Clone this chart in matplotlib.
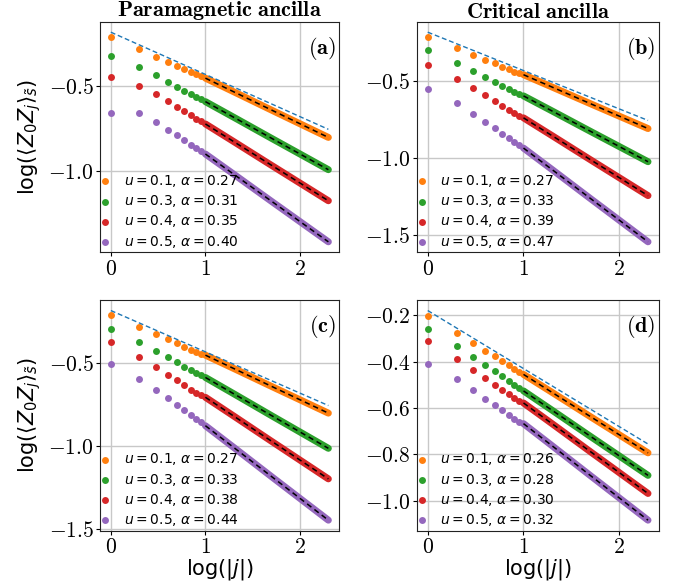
import numpy as np
import matplotlib
matplotlib.use('Agg')
import matplotlib.pyplot as plt
from matplotlib.font_manager import FontProperties
from matplotlib.ticker import FuncFormatter, MultipleLocator

plt.rcParams['mathtext.fontset'] = 'cm'
plt.rcParams['font.family'] = ['DejaVu Sans']

# ---------------- data ----------------
j_head = [1, 2, 3, 4, 5, 6, 7, 8, 9]          # individually resolved points
j_tail = [10, 20, 50, 100, 200]               # dense part (points overlap into a band)
j_ref = [1, 200]
ref_line = [-0.18, -0.755]                    # blue dashed reference line

u_values = [0.1, 0.3, 0.4, 0.5]
colors = ['#ff7f0e', '#2ca02c', '#d62728', '#9467bd']
panel_tags = ['(a)', '(b)', '(c)', '(d)']
titles = ['Paramagnetic ancilla', 'Critical ancilla', None, None]

alpha_a = [0.27, 0.31, 0.35, 0.40]
head_a = [
    [-0.209, -0.281, -0.324, -0.356, -0.379, -0.399, -0.417, -0.430, -0.441],
    [-0.322, -0.387, -0.435, -0.474, -0.502, -0.528, -0.547, -0.563, -0.577],
    [-0.445, -0.496, -0.547, -0.589, -0.621, -0.648, -0.672, -0.692, -0.708],
    [-0.658, -0.658, -0.711, -0.757, -0.791, -0.820, -0.846, -0.866, -0.885],
]
tail_a = [
    [-0.452, -0.533, -0.641, -0.722, -0.803],
    [-0.591, -0.684, -0.808, -0.901, -0.994],
    [-0.723, -0.828, -0.968, -1.073, -1.178],
    [-0.901, -1.021, -1.181, -1.301, -1.421],
]

alpha_b = [0.27, 0.33, 0.39, 0.47]
head_b = [
    [-0.209, -0.283, -0.326, -0.359, -0.383, -0.404, -0.422, -0.437, -0.447],
    [-0.298, -0.380, -0.435, -0.474, -0.504, -0.530, -0.550, -0.567, -0.582],
    [-0.396, -0.483, -0.546, -0.591, -0.628, -0.659, -0.685, -0.707, -0.724],
    [-0.552, -0.639, -0.711, -0.765, -0.807, -0.841, -0.872, -0.898, -0.918],
]
tail_b = [
    [-0.457, -0.538, -0.646, -0.727, -0.808],
    [-0.595, -0.694, -0.826, -0.925, -1.024],
    [-0.738, -0.855, -1.011, -1.128, -1.245],
    [-0.935, -1.076, -1.264, -1.405, -1.546],
]

alpha_c = [0.27, 0.33, 0.38, 0.44]
head_c = [
    [-0.204, -0.277, -0.322, -0.354, -0.379, -0.401, -0.417, -0.431, -0.441],
    [-0.289, -0.372, -0.427, -0.464, -0.494, -0.520, -0.540, -0.557, -0.571],
    [-0.372, -0.464, -0.524, -0.569, -0.603, -0.632, -0.658, -0.678, -0.694],
    [-0.502, -0.593, -0.660, -0.711, -0.751, -0.781, -0.812, -0.836, -0.856],
]
tail_c = [
    [-0.450, -0.531, -0.639, -0.720, -0.801],
    [-0.585, -0.684, -0.816, -0.915, -1.014],
    [-0.705, -0.819, -0.971, -1.085, -1.199],
    [-0.877, -1.009, -1.185, -1.317, -1.449],
]

alpha_d = [0.26, 0.28, 0.30, 0.32]
head_d = [
    [-0.203, -0.276, -0.319, -0.353, -0.377, -0.397, -0.415, -0.430, -0.443],
    [-0.258, -0.334, -0.381, -0.416, -0.442, -0.463, -0.485, -0.500, -0.513],
    [-0.312, -0.387, -0.435, -0.471, -0.499, -0.521, -0.541, -0.557, -0.570],
    [-0.410, -0.475, -0.524, -0.560, -0.588, -0.610, -0.630, -0.647, -0.658],
]
tail_d = [
    [-0.455, -0.533, -0.637, -0.715, -0.793],
    [-0.526, -0.610, -0.722, -0.806, -0.890],
    [-0.578, -0.668, -0.788, -0.878, -0.968],
    [-0.667, -0.763, -0.891, -0.987, -1.083],
]

panels = [
    (alpha_a, head_a, tail_a, 0.5),
    (alpha_b, head_b, tail_b, 0.5),
    (alpha_c, head_c, tail_c, 0.5),
    (alpha_d, head_d, tail_d, 0.2),
]

# ---------------- figure ----------------
fig = plt.figure(figsize=(6.88, 5.88), dpi=100)
rects = [
    [0.1453, 0.5709, 0.3478, 0.3922],
    [0.6057, 0.5709, 0.3522, 0.3922],
    [0.1453, 0.0975, 0.3478, 0.3922],
    [0.6057, 0.0975, 0.3522, 0.3922],
]

xh = np.log10(j_head)
xt = np.log10(j_tail)
xr = np.log10(j_ref)

ms_pt = 5.0
leg_prop = FontProperties(family='DejaVu Sans', size=10, math_fontfamily='dejavusans')

for k, (alphas, heads, tails, ystep) in enumerate(panels):
    ax = fig.add_axes(rects[k])
    ax.set_axisbelow(True)
    ax.grid(True, color='#c8c8c8', linewidth=1.0)
    for s in ax.spines.values():
        s.set_color('#222222')
    for i in range(4):
        ax.scatter(xh, heads[i], s=ms_pt ** 2, color=colors[i], zorder=3,
                   linewidths=0,
                   label=r'$u=%s$, $\alpha=%.2f$' % (u_values[i], alphas[i]))
        ax.plot(xt, tails[i], color=colors[i], lw=ms_pt, solid_capstyle='round', zorder=3)
        ax.plot([xt[0], xt[-1]], [tails[i][0], tails[i][-1]], color='black', lw=1.1,
                ls=(0, (3.5, 2.5)), zorder=4)
    ax.plot(xr, ref_line, color='#1f77b4', lw=1.0, ls=(0, (3.5, 2.0)), zorder=5)

    ax.xaxis.set_major_locator(MultipleLocator(1))
    ax.yaxis.set_major_locator(MultipleLocator(ystep))
    ax.xaxis.set_major_formatter(FuncFormatter(lambda v, p: r'$%d$' % round(v)))
    ax.yaxis.set_major_formatter(FuncFormatter(lambda v, p: r'$%.1f$' % v))
    ax.tick_params(labelsize=15.5, length=3, pad=1.5)

    leg = ax.legend(loc='lower left', bbox_to_anchor=(0.0, 0.0), borderaxespad=0.0,
                    borderpad=0.2, handlelength=0.3, handletextpad=1.2,
                    labelspacing=0.3, frameon=False, prop=leg_prop)

    ax.text(0.985, 0.885, r'$\mathbf{%s}$' % panel_tags[k], transform=ax.transAxes,
            ha='right', va='center', fontsize=16)
    if titles[k]:
        ax.set_title(r'$\mathbf{%s}$' % titles[k].replace(' ', r'\ '), fontsize=16, pad=1.5)
    if k in (0, 2):
        ax.set_ylabel(r'$\log(\langle Z_0 Z_j\rangle_{\tilde{s}})$', fontsize=15,
                      math_fontfamily='dejavusans', labelpad=4)
    if k in (2, 3):
        ax.set_xlabel(r'$\log(|j|)$', fontsize=15, math_fontfamily='dejavusans', labelpad=0)

fig.savefig('out.png', dpi=100)
